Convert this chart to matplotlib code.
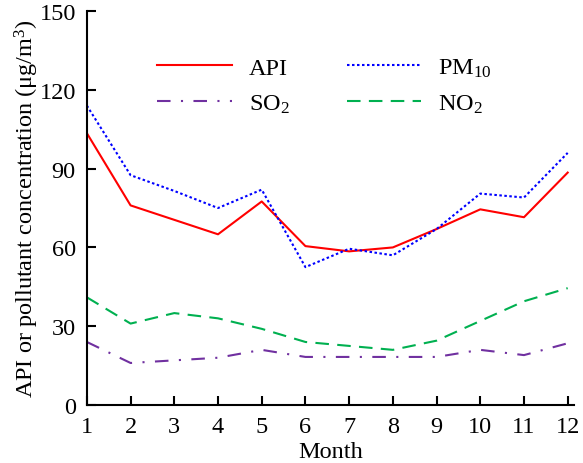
import matplotlib
matplotlib.use("Agg")
import matplotlib.pyplot as plt

plt.rcParams["font.family"] = ["Liberation Serif", "DejaVu Serif"]
plt.rcParams["mathtext.fontset"] = "custom"
plt.rcParams["mathtext.rm"] = "Liberation Serif"
plt.rcParams["mathtext.it"] = "Liberation Serif:italic"
plt.rcParams["mathtext.default"] = "regular"

months = [1, 2, 3, 4, 5, 6, 7, 8, 9, 10, 11, 12]
api = [103.5, 76, 70.5, 65, 77.5, 60.5, 58.5, 60, 67, 74.5, 71.5, 88.5]
pm10 = [114, 87.5, 81.5, 75, 82, 52.5, 59.5, 57, 67, 80.5, 79, 96]
so2 = [24, 16, 17, 18, 21, 18.3, 18.3, 18.3, 18.3, 21, 19, 23.5]
no2 = [41, 31, 35, 33, 29, 24, 22.5, 21, 24.5, 32, 39.5, 44.5]
yticks = [0, 30, 60, 90, 120, 150]

fig = plt.figure(figsize=(5.83, 4.64), dpi=100)
ax = fig.add_axes([0.149, 0.125, 0.836, 0.849])

lw = 1.5
h_api, = ax.plot(months, api, color="#ff0000", lw=lw, label="API")
h_pm, = ax.plot(months, pm10, color="#0000ff", lw=lw, linestyle=(0, (1.2, 1.2)),
                label="PM$_{10}$")
h_so2, = ax.plot(months, so2, color="#7030a0", lw=lw,
                 linestyle=(0, (6.5, 5, 1, 5)), label="SO$_2$")
h_no2, = ax.plot(months, no2, color="#00b050", lw=lw, linestyle=(0, (6.5, 4)),
                 label="NO$_2$")

ax.set_xlim(1, 12.15)
ax.set_ylim(0, 150)
ax.set_xticks(months)
ax.set_yticks(yticks)
for side in ("top", "right"):
    ax.spines[side].set_visible(False)
for side in ("left", "bottom"):
    ax.spines[side].set_linewidth(1.5)
ax.tick_params(direction="in", length=6.5, width=1.5, labelsize=17.5)
ax.tick_params(axis="x", pad=8)
ax.tick_params(axis="y", pad=8)

ax.set_xlabel("Month", fontsize=17.5, labelpad=3)
ax.set_ylabel("API or pollutant concentration (μg/m$^3$)", fontsize=17.5,
              labelpad=-1)

# two columns, filled column-wise: API / SO2 then PM10 / NO2
ax.legend([h_api, h_so2, h_pm, h_no2],
          [h.get_label() for h in (h_api, h_so2, h_pm, h_no2)],
          ncol=2, loc="upper left", bbox_to_anchor=(0.1, 0.94), frameon=False,
          fontsize=17.5, handlelength=3.05, columnspacing=2.35,
          labelspacing=0.58, handletextpad=0.7)

fig.savefig("out.png", dpi=100)
